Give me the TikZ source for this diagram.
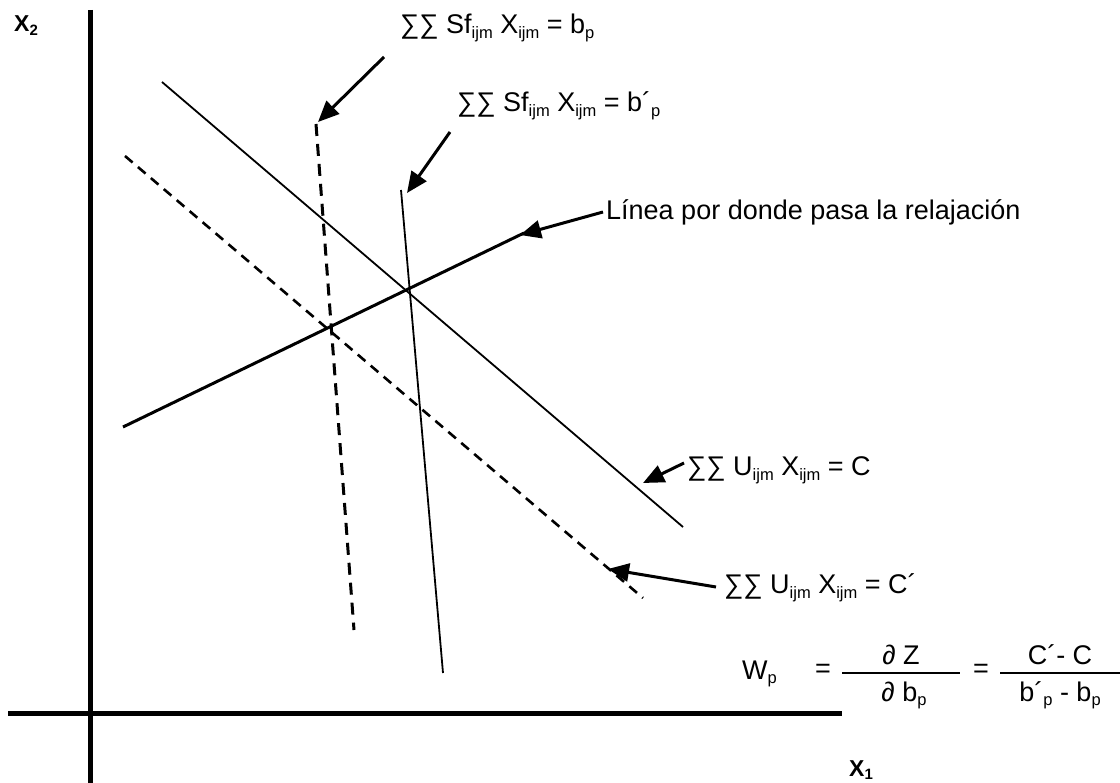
\documentclass[tikz,border=0pt]{standalone}
\usepackage{fontspec}
\setmainfont{Liberation Sans}
\usetikzlibrary{arrows.meta}
\newcommand\sbs[1]{\raisebox{-0.3ex}{\fontsize{16.5}{16.5}\selectfont #1}}
\newcommand\sbx[1]{\raisebox{-0.3ex}{\fontsize{15}{15}\selectfont\bfseries #1}}
\begin{document}
\begin{tikzpicture}[x=1pt,y=-1pt,
  axis/.style={line width=5pt},
  solidline/.style={line width=1.8pt},
  dashline/.style={line width=2.6pt,dash pattern=on 10pt off 7pt},
  dashsteep/.style={line width=3pt,dash pattern=on 12pt off 8pt},
  relax/.style={line width=3pt},
  pointer/.style={line width=3pt,-{Triangle[length=21pt,width=18pt]}},
  lbl/.style={anchor=base west,inner sep=0pt,font=\fontsize{27}{30}\selectfont},
  ctr/.style={inner sep=0pt,font=\fontsize{27}{30}\selectfont},
  axlbl/.style={inner sep=0pt,font=\fontsize{23}{25}\selectfont\bfseries}]
\useasboundingbox (0,0) rectangle (1120,783);
% axes
\coordinate (yt) at (90,10);
\coordinate (yb) at (90,783);
\coordinate (xl) at (8,713);
\coordinate (xr) at (842,713);
\draw[axis] (yt) -- (yb);
\draw[axis] (xl) -- (xr);
\node[axlbl,anchor=base west] (x2) at (14,32) {X\sbx{2}};
\node[axlbl,anchor=base west] (x1) at (849,776) {X\sbx{1}};
% lines
\coordinate (a1) at (162,82);  \coordinate (a2) at (683,527);
\coordinate (b1) at (125,156); \coordinate (b2) at (643,598);
\coordinate (r1) at (123,427); \coordinate (r2) at (524,233);
\coordinate (s1) at (316,124); \coordinate (s2) at (354,630);
\coordinate (t1) at (401,190); \coordinate (t2) at (443,673);
\draw[solidline] (a1) -- (a2);
\draw[dashline] (b1) -- (b2);
\draw[relax] (r1) -- (r2);
\draw[dashsteep] (s1) -- (s2);
\draw[solidline] (t1) -- (t2);
% labels
\node[lbl] (ls) at (400,34) {∑∑ Sf\sbs{ijm} X\sbs{ijm} = b\sbs{p}};
\node[lbl] (lt) at (457,112) {∑∑ Sf\sbs{ijm} X\sbs{ijm} = b´\sbs{p}};
\node[lbl] (lr) at (606,220) {Línea por donde pasa la relajación};
\node[lbl] (la) at (687,476) {∑∑ U\sbs{ijm} X\sbs{ijm} = C};
\node[lbl] (lb) at (724,594) {∑∑ U\sbs{ijm} X\sbs{ijm} = C´};
% pointers
\coordinate (ps0) at (384,57);  \coordinate (ps1) at (318,122);
\coordinate (pt0) at (450,132); \coordinate (pt1) at (407,193);
\coordinate (pr0) at (603,212); \coordinate (pr1) at (520,235);
\coordinate (pa0) at (684,463); \coordinate (pa1) at (643,483);
\coordinate (pb0) at (716,587); \coordinate (pb1) at (608,569);
\draw[pointer] (ps0) -- (ps1);
\draw[pointer] (pt0) -- (pt1);
\draw[pointer] (pr0) -- (pr1);
\draw[pointer] (pa0) -- (pa1);
\draw[pointer] (pb0) -- (pb1);
% formula
\node[ctr,anchor=base west] (wp) at (742,679) {W\sbs{p}};
\node[ctr] (eq1) at (823,671) {=};
\coordinate (f1l) at (842,673); \coordinate (f1r) at (960,673);
\draw[line width=2.2pt] (f1l) -- (f1r);
\node[ctr,anchor=base] (num1) at (901,664) {∂ Z};
\node[ctr,anchor=base] (den1) at (904,701) {∂ b\sbs{p}};
\node[ctr] (eq2) at (981,671) {=};
\coordinate (f2l) at (1000,673); \coordinate (f2r) at (1120,673);
\draw[line width=2.2pt] (f2l) -- (f2r);
\node[ctr,anchor=base] (num2) at (1060,664) {C´- C};
\node[ctr,anchor=base] (den2) at (1060,701) {b´\sbs{p} - b\sbs{p}};
\end{tikzpicture}
\end{document}
